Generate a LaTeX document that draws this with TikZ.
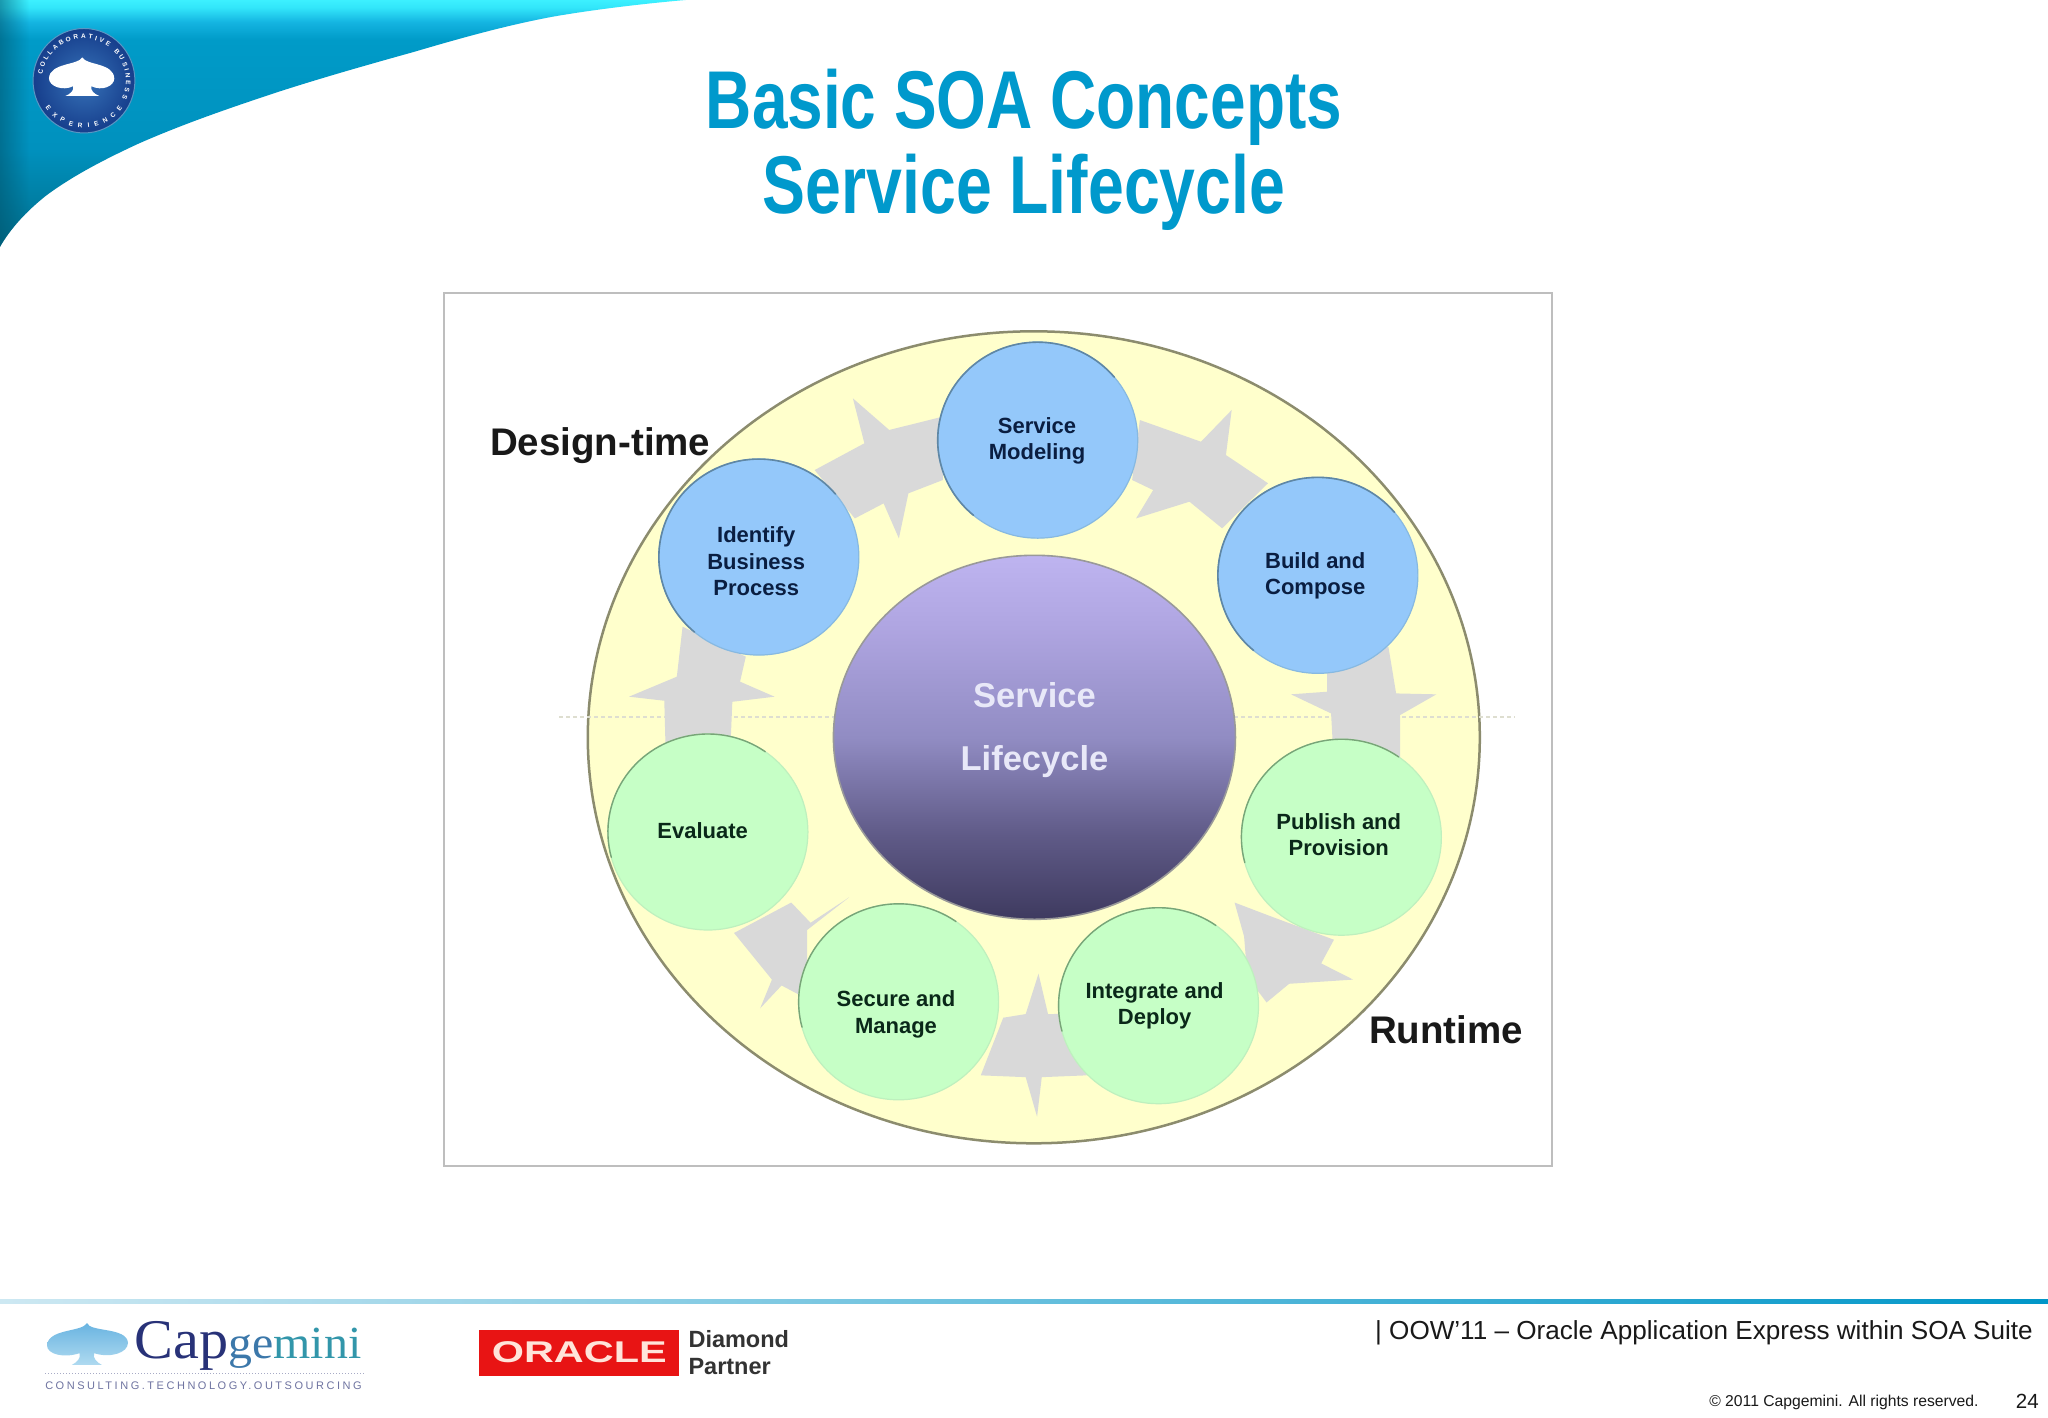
\documentclass[tikz,border=0pt]{standalone}
\usepackage{fontspec}
\usepackage{graphicx}
\setmainfont{Liberation Sans}
\newfontfamily\capfont{Liberation Serif}
\newfontfamily\spacedfont[LetterSpace=23]{Liberation Sans}
\usetikzlibrary{shapes.geometric,decorations.text,fadings}
\definecolor{swA}{RGB}{0,110,140}
\definecolor{swB}{RGB}{0,145,190}
\definecolor{swC}{RGB}{0,155,200}
\definecolor{swD}{RGB}{20,180,225}
\definecolor{swE}{RGB}{50,230,250}
\definecolor{swF}{RGB}{60,240,255}
\definecolor{swDark}{RGB}{0,85,110}
\definecolor{titleblue}{RGB}{0,153,204}
\definecolor{framegray}{RGB}{190,190,190}
\definecolor{bigfill}{RGB}{255,255,204}
\definecolor{bigline}{RGB}{140,140,110}
\definecolor{arrowgray}{RGB}{217,217,217}
\definecolor{bluefill}{RGB}{148,200,250}
\definecolor{bluesoft}{RGB}{135,185,225}
\definecolor{blueline}{RGB}{95,135,165}
\definecolor{greenfill}{RGB}{198,255,198}
\definecolor{greensoft}{RGB}{190,240,190}
\definecolor{greenline}{RGB}{120,165,120}
\definecolor{navytext}{RGB}{10,30,65}
\definecolor{greentext}{RGB}{10,40,25}
\definecolor{lavA}{RGB}{190,180,240}
\definecolor{lavB}{RGB}{175,165,225}
\definecolor{lavC}{RGB}{145,140,195}
\definecolor{lavD}{RGB}{95,90,135}
\definecolor{lavE}{RGB}{62,58,95}
\definecolor{oraclered}{RGB}{232,20,20}
\definecolor{capdark}{RGB}{40,50,120}
\definecolor{capmid}{RGB}{60,120,170}
\definecolor{capteal}{RGB}{50,150,170}
\definecolor{capgrey}{RGB}{110,115,160}
\pgfdeclareverticalshading{swoosh}{100bp}{color(0bp)=(swA); color(25bp)=(swA); color(45bp)=(swB); color(67bp)=(swC); color(70.5bp)=(swD); color(73.5bp)=(swE); color(75bp)=(swF); color(100bp)=(swF)}
\pgfdeclareverticalshading{lifecycle}{100bp}{color(0bp)=(lavE); color(25bp)=(lavE); color(36.5bp)=(lavD); color(50bp)=(lavC); color(65bp)=(lavB); color(75bp)=(lavA); color(100bp)=(lavA)}
\tikzset{
  stage/.style={ellipse,draw,line width=1.2pt,minimum width=200pt,minimum height=196pt,inner sep=0pt},
  design/.style={stage,fill=bluefill,draw=bluesoft},
  run/.style={stage,fill=greenfill,draw=greensoft},
  designtext/.style={font=\bfseries\fontsize{22}{26.5}\selectfont,align=center,text=navytext,inner sep=0pt},
  runtext/.style={font=\bfseries\fontsize{22}{26.5}\selectfont,align=center,text=greentext,inner sep=0pt},
  flow/.style={fill=arrowgray},
  phase/.style={font=\bfseries\fontsize{38.5}{40}\selectfont,text=black!90,inner sep=0pt},
  divider/.style={draw={rgb,255:red,222;green,222;blue,208},line width=2.4pt,dash pattern=on 4pt off 3pt},
  footer/.style={inner sep=0pt,text=black!90}
}
\begin{document}
\begin{tikzpicture}[x=1.30612pt,y=-1.30612pt]
\useasboundingbox (0,0) rectangle (1568,1085.65);
\fill[white] (0,0) rectangle (1568,1085.65);
% top-left swoosh
\def\swooshpath{(0,0) -- (525,0) .. controls (490,3) and (450,8) .. (422,13) .. controls (385,20) and (350,30) .. (316,40) .. controls (280,50) and (245,60) .. (211,71) .. controls (175,83) and (140,95) .. (106,110) .. controls (80,122) and (55,135) .. (35,150) .. controls (20,162) and (8,175) .. (0,189) -- cycle}
\shade[shading=swoosh] \swooshpath;
\begin{scope}
  \clip \swooshpath;
  \fill[swDark,opacity=.55,path fading=east] (0,0) rectangle (22,190);
\end{scope}
% seal
\shade[inner color={rgb,255:red,55;green,115;blue,185},outer color={rgb,255:red,22;green,62;blue,140},draw={rgb,255:red,90;green,150;blue,195},line width=1pt] (64.3,61.8) ellipse[x radius=39,y radius=40];
\fill[white] (63,44) .. controls (66,50) and (87,48) .. (87.5,60) .. controls (87.5,66) and (78,70) .. (70,66) .. controls (69,69) and (72,72) .. (76,73.5) -- (50,73.5) .. controls (54,72) and (57,69) .. (56,66) .. controls (48,70) and (37.5,66) .. (37.5,60) .. controls (38,48) and (60,50) .. (63,44) -- cycle;
\begin{scope}[shift={(64.3,61.8)},x=1pt,y=1pt]
  \path[decorate,decoration={text along path,text align={fit to path},text={|\bfseries\fontsize{6.5}{7}\selectfont\color{white}|COLLABORATIVE BUSINESS}}] (172:42) arc[start angle=172,end angle=-25,radius=42];
  \path[decorate,decoration={text along path,text align={fit to path},text={|\bfseries\fontsize{6.5}{7}\selectfont\color{white}|EXPERIENCE}}] (215:47) arc[start angle=215,end angle=325,radius=47];
\end{scope}
% title
\node[font=\bfseries\fontsize{82}{85}\selectfont,text=titleblue,align=center,inner sep=0pt] (title) at (784,114.5) {\scalebox{.78}[1]{Basic SOA Concepts}\\\scalebox{.785}[1]{Service Lifecycle}};
% image frame
\node[draw=framegray,fill=white,line width=2pt,minimum width=1107.5pt,minimum height=873.5pt,inner sep=0pt] (frame) at (764,558.5) {};
% big ring
\node[ellipse,fill=bigfill,draw=bigline,line width=2.5pt,minimum width=892pt,minimum height=812pt,inner sep=0pt] (ring) at (791.5,564.5) {};
% dashed divider
\coordinate (divAa) at (428,549);
\coordinate (divAb) at (640,549);
\coordinate (divBa) at (945,549);
\coordinate (divBb) at (1160,549);
\draw[divider] (divAa) -- (divAb);
\draw[divider] (divBa) -- (divBb);
% block arrows
\fill[flow] (623.7,359.9) -- (661.8,339.4) -- (653,305) -- (680.8,329.2) -- (721.9,319) -- (721.9,367.5) -- (695.5,377.7) -- (688.2,412.2) -- (676.5,385.4) -- (654.5,396.9) -- cycle;
\fill[flow] (522.6,479.8) -- (571,502.8) -- (566.6,521.9) -- (593,533.4) -- (560.7,537.3) -- (559.3,570) -- (509.5,570) -- (508.6,536.5) -- (481.6,533.4) -- (518.2,518.1) -- cycle;
\fill[flow] (872.7,321.6) -- (919.5,338.2) -- (943,313.9) -- (938.6,348.4) -- (970.8,370) -- (935.7,404.5) -- (910.7,384.1) -- (869.8,396.9) -- (882.9,375.2) -- (866.8,367.5) -- cycle;
\fill[flow] (1063,495.2) -- (1068.9,530.9) -- (1099.7,531.6) -- (1071.9,547.5) -- (1071.9,580) -- (1020.7,575) -- (1019.1,546.2) -- (988.4,531.6) -- (1016,529.6) -- (1016,505) -- cycle;
\fill[flow] (945.2,691) -- (972.2,701.3) -- (1021.3,719.5) -- (1011.5,737.6) -- (1036,750) -- (987,753.2) -- (969.7,767.5) -- (955,748) -- (952.5,716.9) -- cycle;
\fill[flow] (795.1,745.5) -- (802.4,776.4) -- (832,776) -- (832,823.3) -- (797.6,824.7) -- (794,855) -- (785.3,824.7) -- (750.9,823.3) -- (768.1,779.2) -- (785.3,776.4) -- cycle;
\fill[flow] (650.1,687) -- (618,712) -- (618,742.9) -- (615.6,763.6) -- (598.4,754.5) -- (582,772) -- (591,750) -- (562,714.3) -- (605.8,691) -- (620.6,706.5) -- cycle;
% centre
\node[ellipse,shading=lifecycle,draw=black!40,line width=1.6pt,minimum width=402pt,minimum height=364pt,inner sep=0pt] (centre) at (792,564.5) {};
\node[font=\bfseries\fontsize{34.5}{62.7}\selectfont,text={rgb,255:red,232;green,232;blue,248},align=center,inner sep=0pt] (centretext) at (792,559) {Service\\Lifecycle};
% stages
\node[design] (modeling) at (794.5,337) {};
\node[design] (identify) at (581,426.5) {};
\node[design] (build) at (1009,440.5) {};
\node[run] (publish) at (1027,641) {};
\node[run] (integrate) at (887,770) {};
\node[run] (secure) at (688,767) {};
\node[run] (evaluate) at (542,637) {};
% darker top-left edge of each stage
\foreach \n in {modeling,identify,build}{
  \begin{scope}[shift={(\n)},x=1pt,y=1pt]
    \draw[blueline,line width=1.6pt,line cap=round] (40:100 and 98) arc[start angle=40,end angle=230,x radius=100,y radius=98];
  \end{scope}}
\foreach \n in {publish,integrate,secure,evaluate}{
  \begin{scope}[shift={(\n)},x=1pt,y=1pt]
    \draw[greenline,line width=1.4pt,line cap=round] (55:100 and 98) arc[start angle=55,end angle=195,x radius=100,y radius=98];
  \end{scope}}
\node[designtext] (modelingtext) at (794,337.5) {Service\\Modeling};
\node[designtext] (identifytext) at (579,430) {Identify\\Business\\Process};
\node[designtext] (buildtext) at (1007,441) {Build and\\Compose};
\node[runtext] (publishtext) at (1025,639) {Publish and\\Provision};
\node[runtext] (integratetext) at (884,770) {Integrate and\\Deploy};
\node[runtext] (securetext) at (686,776.5) {Secure and\\Manage};
\node[runtext] (evaluatetext) at (538,636) {Evaluate};
% phase labels
\node[phase,anchor=base west] (designtime) at (375,349) {Design-time};
\node[phase,anchor=base west] (runtime) at (1048,799) {Runtime};
% footer rule
\shade[left color={rgb,255:red,205;green,232;blue,242},right color={rgb,255:red,0;green,150;blue,200}] (0,995) rectangle (1568,998);
% Capgemini logo
\shade[top color={rgb,255:red,105;green,180;blue,225},bottom color={rgb,255:red,175;green,218;blue,240}] (66.6,1013) .. controls (69,1020) and (97,1016) .. (98,1028) .. controls (98,1036) and (84,1040) .. (72,1036) .. controls (71,1040) and (74,1043) .. (78,1045) -- (55,1045) .. controls (59,1043) and (62,1040) .. (61,1036) .. controls (49,1040) and (36,1037) .. (36,1030) .. controls (37,1017) and (63,1020) .. (66.6,1013) -- cycle;
\node[anchor=base west,inner sep=0pt] (capgemini) at (103,1040) {\scalebox{1.04}[1]{\capfont\fontsize{56}{56}\selectfont\color{capdark}Cap\fontsize{46}{46}\selectfont\color{capmid}ge\color{capteal}mini}};
\coordinate (capa) at (34.5,1051.5);
\coordinate (capb) at (278,1051.5);
\draw[capgrey!60,line width=1pt,dotted] (capa) -- (capb);
\node[anchor=base west,inner sep=0pt,text=capgrey] (capslogan) at (34.5,1063.6) {\spacedfont\fontsize{11}{11}\selectfont CONSULTING.TECHNOLOGY.OUTSOURCING};
% Oracle logo
\node[fill=oraclered,minimum width=200pt,minimum height=46pt,inner sep=0pt,text={rgb,255:red,255;green,228;blue,218}] (oracle) at (443.5,1035.5) {\scalebox{1.38}[1]{\bfseries\fontsize{30}{30}\selectfont ORACLE}};
\node[anchor=west,inner sep=0pt,align=left,font=\bfseries\fontsize{23.5}{27.5}\selectfont,text=black!80] (partner) at (527,1035.5) {Diamond\\Partner};
% footer text
\node[footer,anchor=base east,font=\fontsize{26.1}{26}\selectfont] (foottitle) at (1556.5,1025.3) {| OOW’11 – Oracle Application Express within SOA Suite};
\node[footer,anchor=base east,font=\fontsize{15.7}{16}\selectfont] (copyright) at (1515,1076.5) {© 2011 Capgemini. All rights reserved.};
\node[footer,anchor=base east,font=\fontsize{20.5}{20}\selectfont] (pagenum) at (1561,1078) {24};
\end{tikzpicture}
\end{document}
